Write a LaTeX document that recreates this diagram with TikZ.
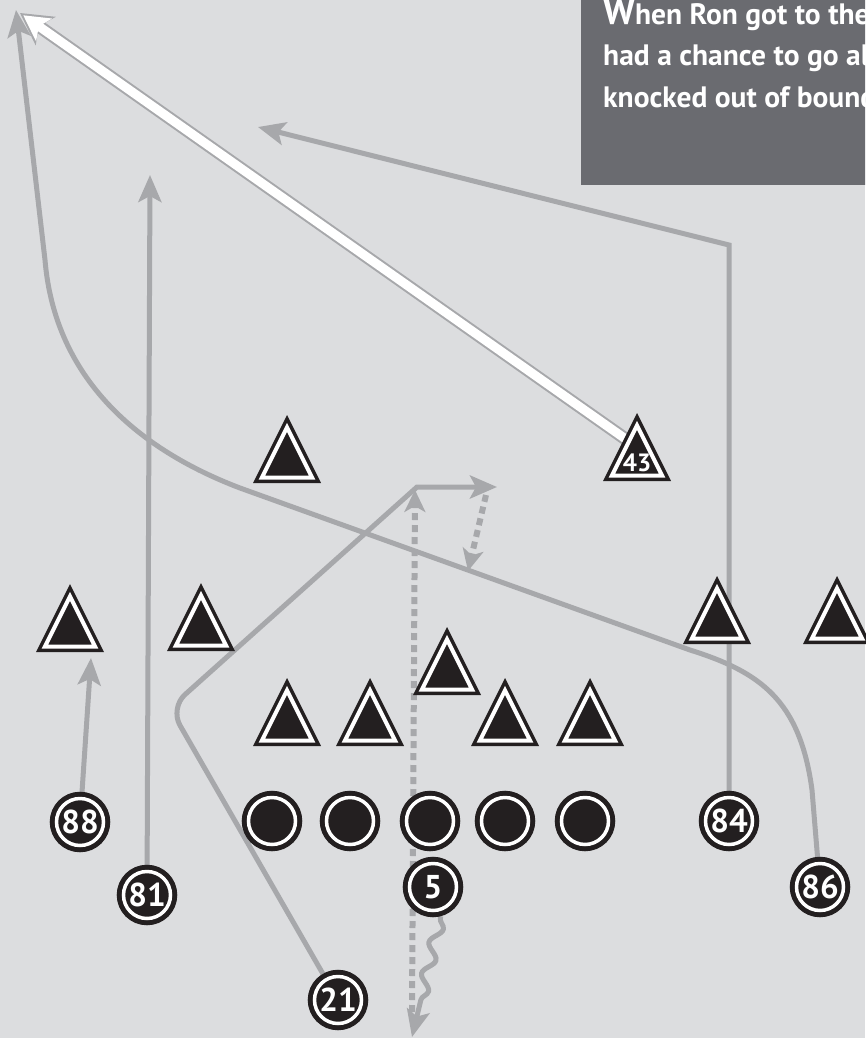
\documentclass[tikz,border=0pt]{standalone}
\usepackage{fontspec}
\setmainfont{PT Sans}
\usetikzlibrary{arrows.meta,calc,backgrounds,decorations.pathmorphing}
\definecolor{fieldgrey}{RGB}{220,221,223}
\definecolor{boxgrey}{RGB}{106,107,112}
\definecolor{routegrey}{RGB}{167,168,171}
\definecolor{ink}{RGB}{35,31,32}

\tikzset{
  defender/.pic={
    \fill[ink] (0,-34) -- (34,34) -- (-34,34) -- cycle;
    \draw[white, line width=4pt] (0,-21.7) -- (25.1,28.5) -- (-25.1,28.5) -- cycle;
    \coordinate (-c) at (0,0);
  }
}

\begin{document}
\begin{tikzpicture}[x=1pt, y=-1pt,
    player/.style={circle, fill=ink, draw=ink, line width=5pt, double=white,
      double distance=3.5pt, minimum size=47pt, inner sep=0pt, outer sep=6.7pt,
      text=white, font=\fontsize{33}{33}\selectfont\bfseries},
    dnum/.style={text=white, inner sep=0pt, font=\fontsize{25}{25}\selectfont\bfseries},
    captext/.style={text=white, anchor=base west, inner sep=0pt,
      font=\fontsize{29.5}{29.5}\selectfont\bfseries},
    route/.style={draw=routegrey, line width=5pt,
      -{Stealth[length=27pt, width=23pt, inset=6pt]}},
    dotroute/.style={route, line width=6pt, dash pattern=on 7pt off 5pt,
      -{Stealth[length=22pt, width=21pt, inset=6pt]}}]
  \useasboundingbox (0,0) rectangle (865,1038);
  \begin{scope}[on background layer]
    \fill[fieldgrey] (0,0) rectangle (865,1038);
  \end{scope}

  % caption box, cut by the page edge
  \begin{scope}
    \clip (0,0) rectangle (865,1038);
    \fill[boxgrey] (581,0) rectangle (880,185);
    \node[captext] (cap1) at (603,25)
      {{\fontsize{37}{37}\selectfont W}hen Ron got to the};
    \node[captext] (cap2) at (603,66) {had a chance to go all};
    \node[captext] (cap3) at (603,108) {knocked out of bounds};
  \end{scope}

  % offense
  \foreach \x [count=\i] in {272,350,430,505,585}
    \node[player] (ol\i) at (\x,821) {};
  \node[player] (p88) at (80,822) {88};
  \node[player] (p81) at (147,895) {81};
  \node[player] (p84) at (729,821) {84};
  \node[player] (p86) at (820,887) {86};
  \node[player] (p5) at (433,887) {5};
  \node[player] (p21) at (338,1000) {21};

  % defense
  \foreach \x/\y [count=\i] in {287/449,70/618,201/617,447/661,287/712,
      370/712,505/712,590/712,717/610,837/610}
    \pic (d\i) at (\x,\y) {defender};
  \pic (d43) at (637,447) {defender};
  \node[dnum] (d43num) at (637,463) {43};

  % route ends
  \coordinate (t88) at (91,658);
  \coordinate (t81) at (150,175);
  \coordinate (k84) at (729,245);
  \coordinate (t84) at (258,127);
  \coordinate (t86) at (16,10);
  \coordinate (t21) at (497,487);
  \coordinate (qbdrop) at (412,1012);
  \coordinate (tqb) at (415,490);
  \coordinate (tdrop) at (412,1037);
  \coordinate (lb1) at (486,495);
  \coordinate (lb2) at (468,571);
  \coordinate (tpass) at (20,13);

  \begin{scope}[on background layer]
    \draw[route] (p88) -- (t88);
    \draw[route] (p81) -- (t81);
    \draw[route] (p84) -- (k84) -- (t84);
    \draw[route] (p86) -- (812,790) .. controls (800,700) and (760,672) .. (690,650)
      -- (240,488) .. controls (140,450) and (55,380) .. (45,260) -- (t86);
    \draw[route] (p21) [rounded corners=20pt] -- (170,708) [sharp corners]
      -- (417,487) -- (t21);
    \draw[dotroute] (lb1) -- (lb2);
    \draw[dotroute] (qbdrop) -- (tqb);
    \draw[route, decorate, decoration={snake, amplitude=5.5pt,
      segment length=32pt, pre length=2pt, post length=28pt}] (p5.-75) -- (tdrop);
    % the pass
    \draw[routegrey, line width=13pt,
      -{Stealth[length=31pt, width=34pt, inset=8pt]}] (d43-c) -- (tpass);
    \draw[white, line width=9pt,
      -{Stealth[length=25pt, width=27pt, inset=6pt]}] (d43-c) -- ($(tpass)!4pt!(d43-c)$);
  \end{scope}
\end{tikzpicture}
\end{document}
